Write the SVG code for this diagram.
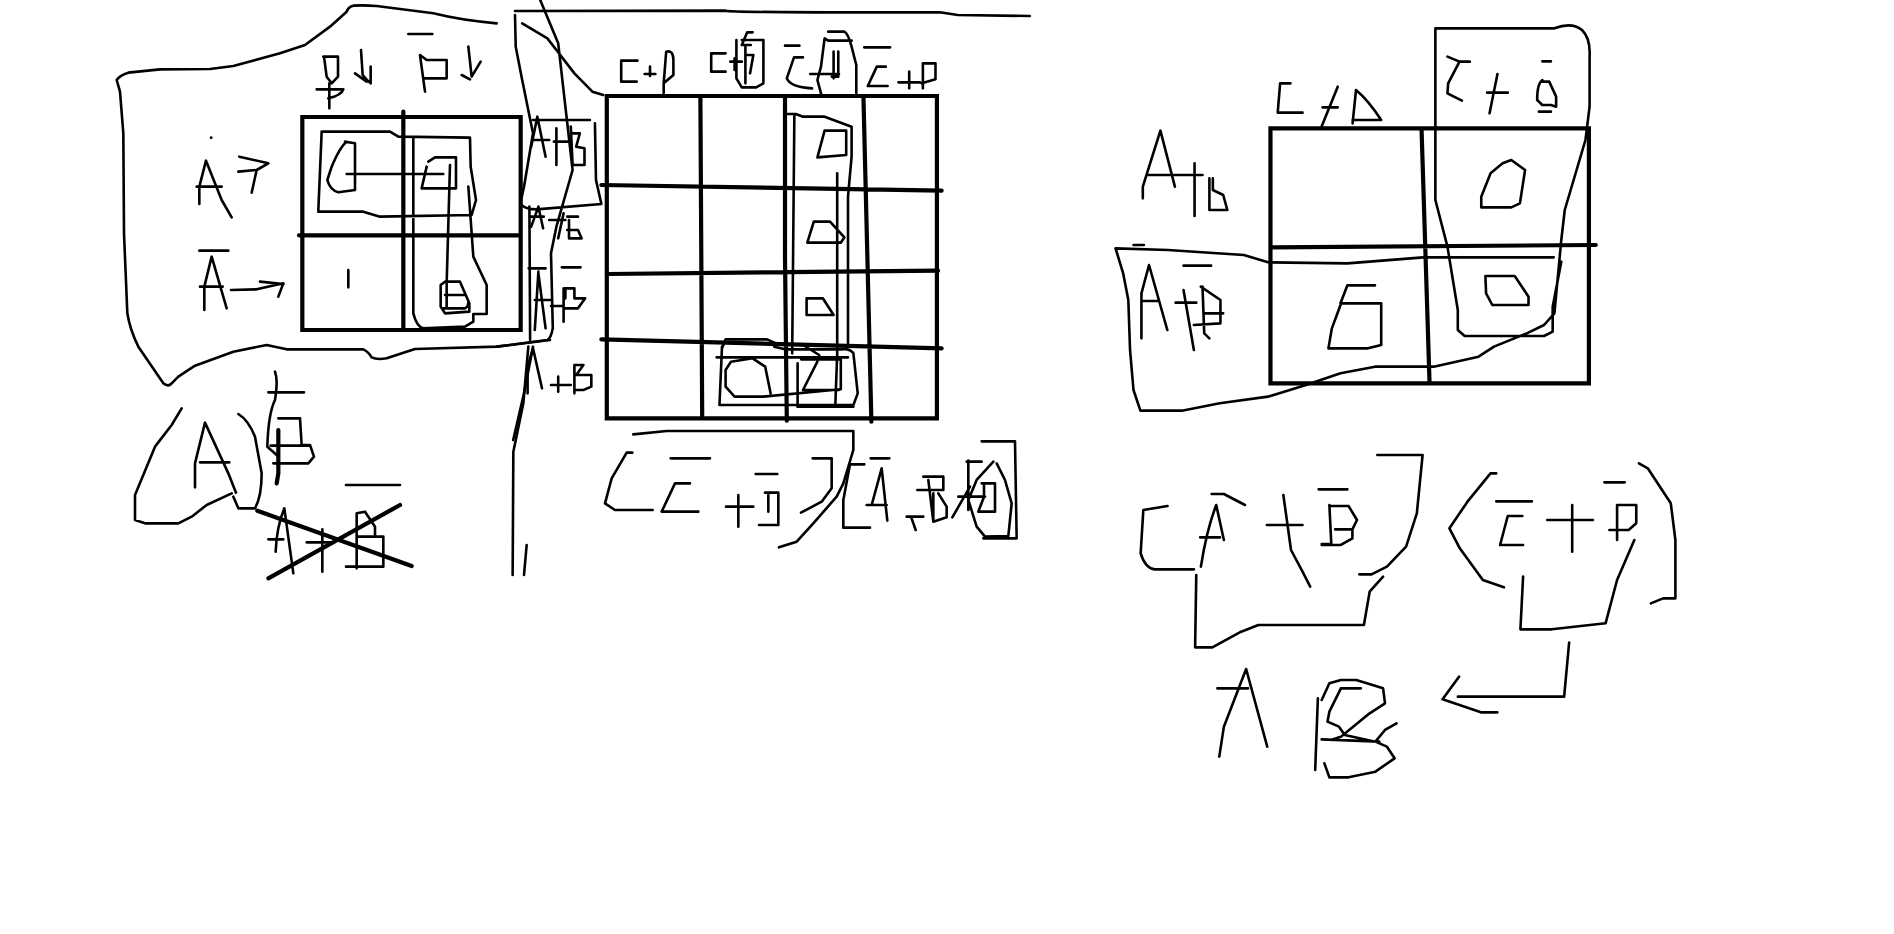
<svg xmlns="http://www.w3.org/2000/svg" width="1894" height="934" viewBox="0 0 1894 934">
<style>
path{fill:none;stroke:#000;stroke-width:2.6;stroke-linecap:round;stroke-linejoin:round;vector-effect:non-scaling-stroke}
.k{stroke-width:4.2;stroke-linecap:butt;stroke-linejoin:miter}
.x{stroke-width:4.2}
</style>
<rect width="1894" height="934" fill="#fff"/>
<g id="left-map" transform="translate(100,0) scale(.33333)">
<path class="k" d="M607 351H1262V990H607Z"/>
<path class="x" d="M910 335V985M597 706H1255"/>
<path d="M1190 70C1130 65 1080 60 1000 40L830 18Q790 15 760 17Q745 20 740 35L690 80L615 135L540 160L400 198L330 207L180 208L85 218Q60 225 50 240L60 275L70 400L72 700L82 940Q90 990 115 1040L190 1150Q205 1162 215 1150L235 1130L285 1097L400 1055L500 1035L560 1048L790 1048Q805 1055 815 1072Q830 1080 860 1075L945 1047L1190 1040L1350 1020"/>
<path d="M670 170H714V230L695 250L680 230L672 170M650 268H730Q725 285 685 295M688 250V325M783 150L788 225Q800 240 812 250V200M765 220L800 245M925 102H997M960 165L975 275M960 165L980 180H1040V235H970M1105 140L1115 230L1142 185M1085 225L1110 238"/>
<path d="M655 632L665 395H870L895 410L1110 413L1112 500L1128 600L1115 645L840 650L790 635H655M940 415V940Q950 980 970 985L1095 980L1120 965V942H1160V855L1120 770L1105 560M740 425Q720 440 695 500L682 540Q690 570 715 577L765 570V430L735 425M740 522H1030M985 485L1005 472H1068V565H965L980 500M1050 495L1040 850V925M1022 855L1035 845H1080L1108 910V935L1035 940L1022 920ZM1035 885H1095M1030 925H1095Q1105 920 1105 905M745 810V862"/>
<path d="M298 612V560L318 482L365 600L395 652M290 560H365M333 413h1M418 470L505 490L470 510L455 578M415 515L470 510M298 752H385M313 930V860L335 770L380 925M300 860H368M393 870L470 868L550 850L535 890M480 845L550 852"/>
</g>
<g id="middle-map" transform="translate(497,0) scale(.36,.33333)">
<path class="k" d="M305 288H1222V1255H305Z"/>
<path class="x" d="M565 295L570 1250M800 295V770L805 1262M1018 295L1040 1265M290 555L1235 572M305 822L1225 812M290 1018L1235 1045"/>
<path d="M50 33L635 32Q650 38 1230 37L1280 45L1480 48M120 0L170 130L210 510L165 680L150 760L155 985Q150 1015 140 1020L0 1040M70 70L140 115L165 150L215 220L265 275L295 285M50 45L52 140L70 240L85 320L100 400L75 560L65 610Q75 628 110 628L290 612L275 540L272 370M100 360H258M90 620L92 1020M100 1040L75 1180L45 1320"/>
<path d="M390 182H345V245H388M410 222H440M425 200V228M463 280V250L470 155Q490 150 490 180V225L463 250M635 160H595V215H635M648 185H680M660 175V210M710 97H695L680 135H705M680 120H740V250L720 262H680L665 235V120M690 140V250M690 165H712L703 220M800 137H840M850 172H825L805 235Q815 262 875 265M870 222H950M935 155V235M948 155V230H930M920 95H965Q975 100 985 140L998 195V280M985 122H920L910 115L900 200L890 240L900 280M1020 142H1092M1080 200H1055L1030 258H1085M1115 247H1175M1145 215V265M1183 265V190H1218V238L1180 250"/>
<path d="M805 342H830L850 350H910L985 380V470L975 590V1030M826 345L820 1060M835 1090V1220M945 520V1060L940 1210M910 392H970V465L890 472ZM880 665H925L965 712L955 728H862ZM860 895H905L935 945H860Z"/>
<path d="M625 1040L618 1215H990L1002 1180L990 1060Q980 1045 960 1048H800L770 1040M625 1045L635 1018H750L775 1030L850 1035L895 1065M610 1072H975M845 1078H955V1168L740 1190H660L635 1160V1110L650 1085L710 1075L745 1100L760 1180M890 1085L850 1170H950M835 1220H990"/>
<path d="M95 440L112 350L135 470M100 420H145M165 385V495M158 425H205M205 380L210 495H243V445L220 440L230 400H205M115 620L95 680M115 620L128 685M92 650H130M145 660H190M185 640L170 715M195 650H225M200 660V715H235L225 690H195M88 805H135M180 802H232M115 815L105 990M115 820L135 985M105 900H150M150 918H185M185 865V965M190 895V865H215V895H245L225 925H185M85 1180V1100L100 1045L125 1165M150 1155H205M170 1130V1175M215 1180V1095H240L220 1125H262V1160L240 1170H215"/>
</g>
<g id="left-notes" transform="translate(100,340) scale(.33333)">
<path d="M525 95Q535 120 525 180Q505 220 502 320L530 345M505 157H612M535 235H600L605 315H630L642 350L625 370H520M512 317H630"/>
<path class="x" d="M535 270V400L530 430"/>
<path d="M245 205L215 255L165 320L105 465V540L135 550H235L275 530L320 495L395 460M415 222Q445 240 465 290L485 400Q485 470 465 505H415L400 470M285 442V370L315 248L385 400L408 458M300 367H388"/>
<path class="x" d="M472 512L935 678M505 715L900 495"/>
<path d="M738 435H900M505 598H550M553 505Q530 560 527 635M553 505L580 700M620 607H695M667 568V695M770 685V520L795 515L825 560V590M775 590H850V680H738"/>
<path d="M1285 20L1270 190L1240 335L1238 705M1280 615L1272 705"/>
</g>
<g id="middle-notes" transform="translate(580,400) scale(.33333)">
<path d="M160 103L260 93H820V150L790 250L770 290L700 370L650 425L597 442M157 158H140L95 235L75 310L105 330H218M272 175H390M330 250H285L245 335H355M438 320H520M475 285V380M527 222H592M555 278H595V375H537M565 285V335M698 175H755V265L725 305L663 338"/>
<path d="M853 193H810L790 300V383H870M872 175H928M875 315L905 205L922 362M860 315H920M980 350H1030M993 350L1007 390M1030 230H1090V270H1012M1045 240L1060 365L1100 352V320L1075 280M1060 280V365M1117 352L1170 260M1135 290H1215M1165 182V330M1160 185H1205M1205 250H1245V335H1195L1212 290V250M1240 185L1190 240L1165 300L1190 380L1215 410L1285 408L1295 310L1275 240L1250 190M1205 124H1305L1310 415H1210"/>
</g>
<g id="right-map" transform="translate(1099,0) scale(.345,.33333)">
<path class="k" d="M497 385H1420V1150H497Z"/>
<path class="x" d="M935 390L958 1145M500 742L1440 735"/>
<path d="M555 250H525L518 338H590M648 322H692M692 260L645 380M735 370L745 270Q780 300 818 360H735"/>
<path d="M975 385V85H1320Q1370 65 1400 90Q1425 115 1422 170V320L1410 420L1350 630L1340 720L1320 940L1290 975L1240 1000L1145 1040L1100 1070L970 1100H800L700 1120L600 1155L490 1190L350 1210L240 1232H120L100 1170L90 1050L85 900L70 820L48 745L200 750L420 765L490 787L720 790L940 772H1318M975 385V600L1010 740L1040 930V990L1060 1008H1290L1315 995V920L1340 785M100 735H130"/>
<path d="M1010 170L1045 185H1075M1045 185L1012 250L1010 280L1052 302M1125 278H1185M1155 222L1132 340M1285 184H1310M1285 240Q1270 250 1270 300L1285 315H1310L1325 320V290L1305 245H1285M1275 335H1310"/>
<path d="M1170 490L1195 480L1235 510L1220 610L1195 622H1108V590L1135 520L1170 490M1120 828H1205L1245 890V915H1140L1122 880ZM800 856H720L700 910H818V1035L780 1045H665L675 985L700 915"/>
<path d="M127 595V560L178 392L220 560M138 525H300M277 490V648M320 535V630H372L360 585L330 570V535M245 797H325M123 1015V880L145 795L198 990M125 903H172M222 908H282M245 870L275 1050M295 860L352 900V970L275 975M300 860L305 1000L320 1015M305 940H360"/>
</g>
<g id="right-notes" transform="translate(1118.4,440) scale(.3836,.33333)">
<path d="M128 198L65 210L58 340Q70 385 95 388H197M243 162H275L330 195M215 380Q230 270 255 195L275 300M213 292H265M387 255H480M430 165L450 330L480 395L500 440M522 148H597M550 195L555 312H530M550 198H600L622 240L610 268H565M610 270V295L580 315H530M675 45H793L778 220L750 320L700 380L660 403H628M203 405L200 622H245L320 575L365 555H640L655 455L690 410"/>
<path d="M985 100H970L910 185L863 265L890 325L950 420L1005 442M985 184H1078M1053 228H1015L995 315H1055M1118 240H1237M1183 195V335M1267 127H1320M1300 195H1350V250L1330 270H1280M1300 195V300M1357 70L1380 85L1440 190L1452 300V475H1420L1388 490M1345 300L1300 420L1270 550L1130 568H1048L1055 410M1175 608L1162 770H885M888 710L845 778L945 817H988"/>
<path d="M263 950L275 860L333 687L388 920M258 745H338M520 775L513 990M530 898L680 905M530 780L550 730L580 720H620L690 745L695 790L655 820L580 890L560 898M545 845L575 860L590 885L670 905L700 920L720 955L670 995L600 1012H550L537 970M670 905L695 870L725 850M580 745H632M580 745L550 815L545 845"/>
</g>
</svg>
